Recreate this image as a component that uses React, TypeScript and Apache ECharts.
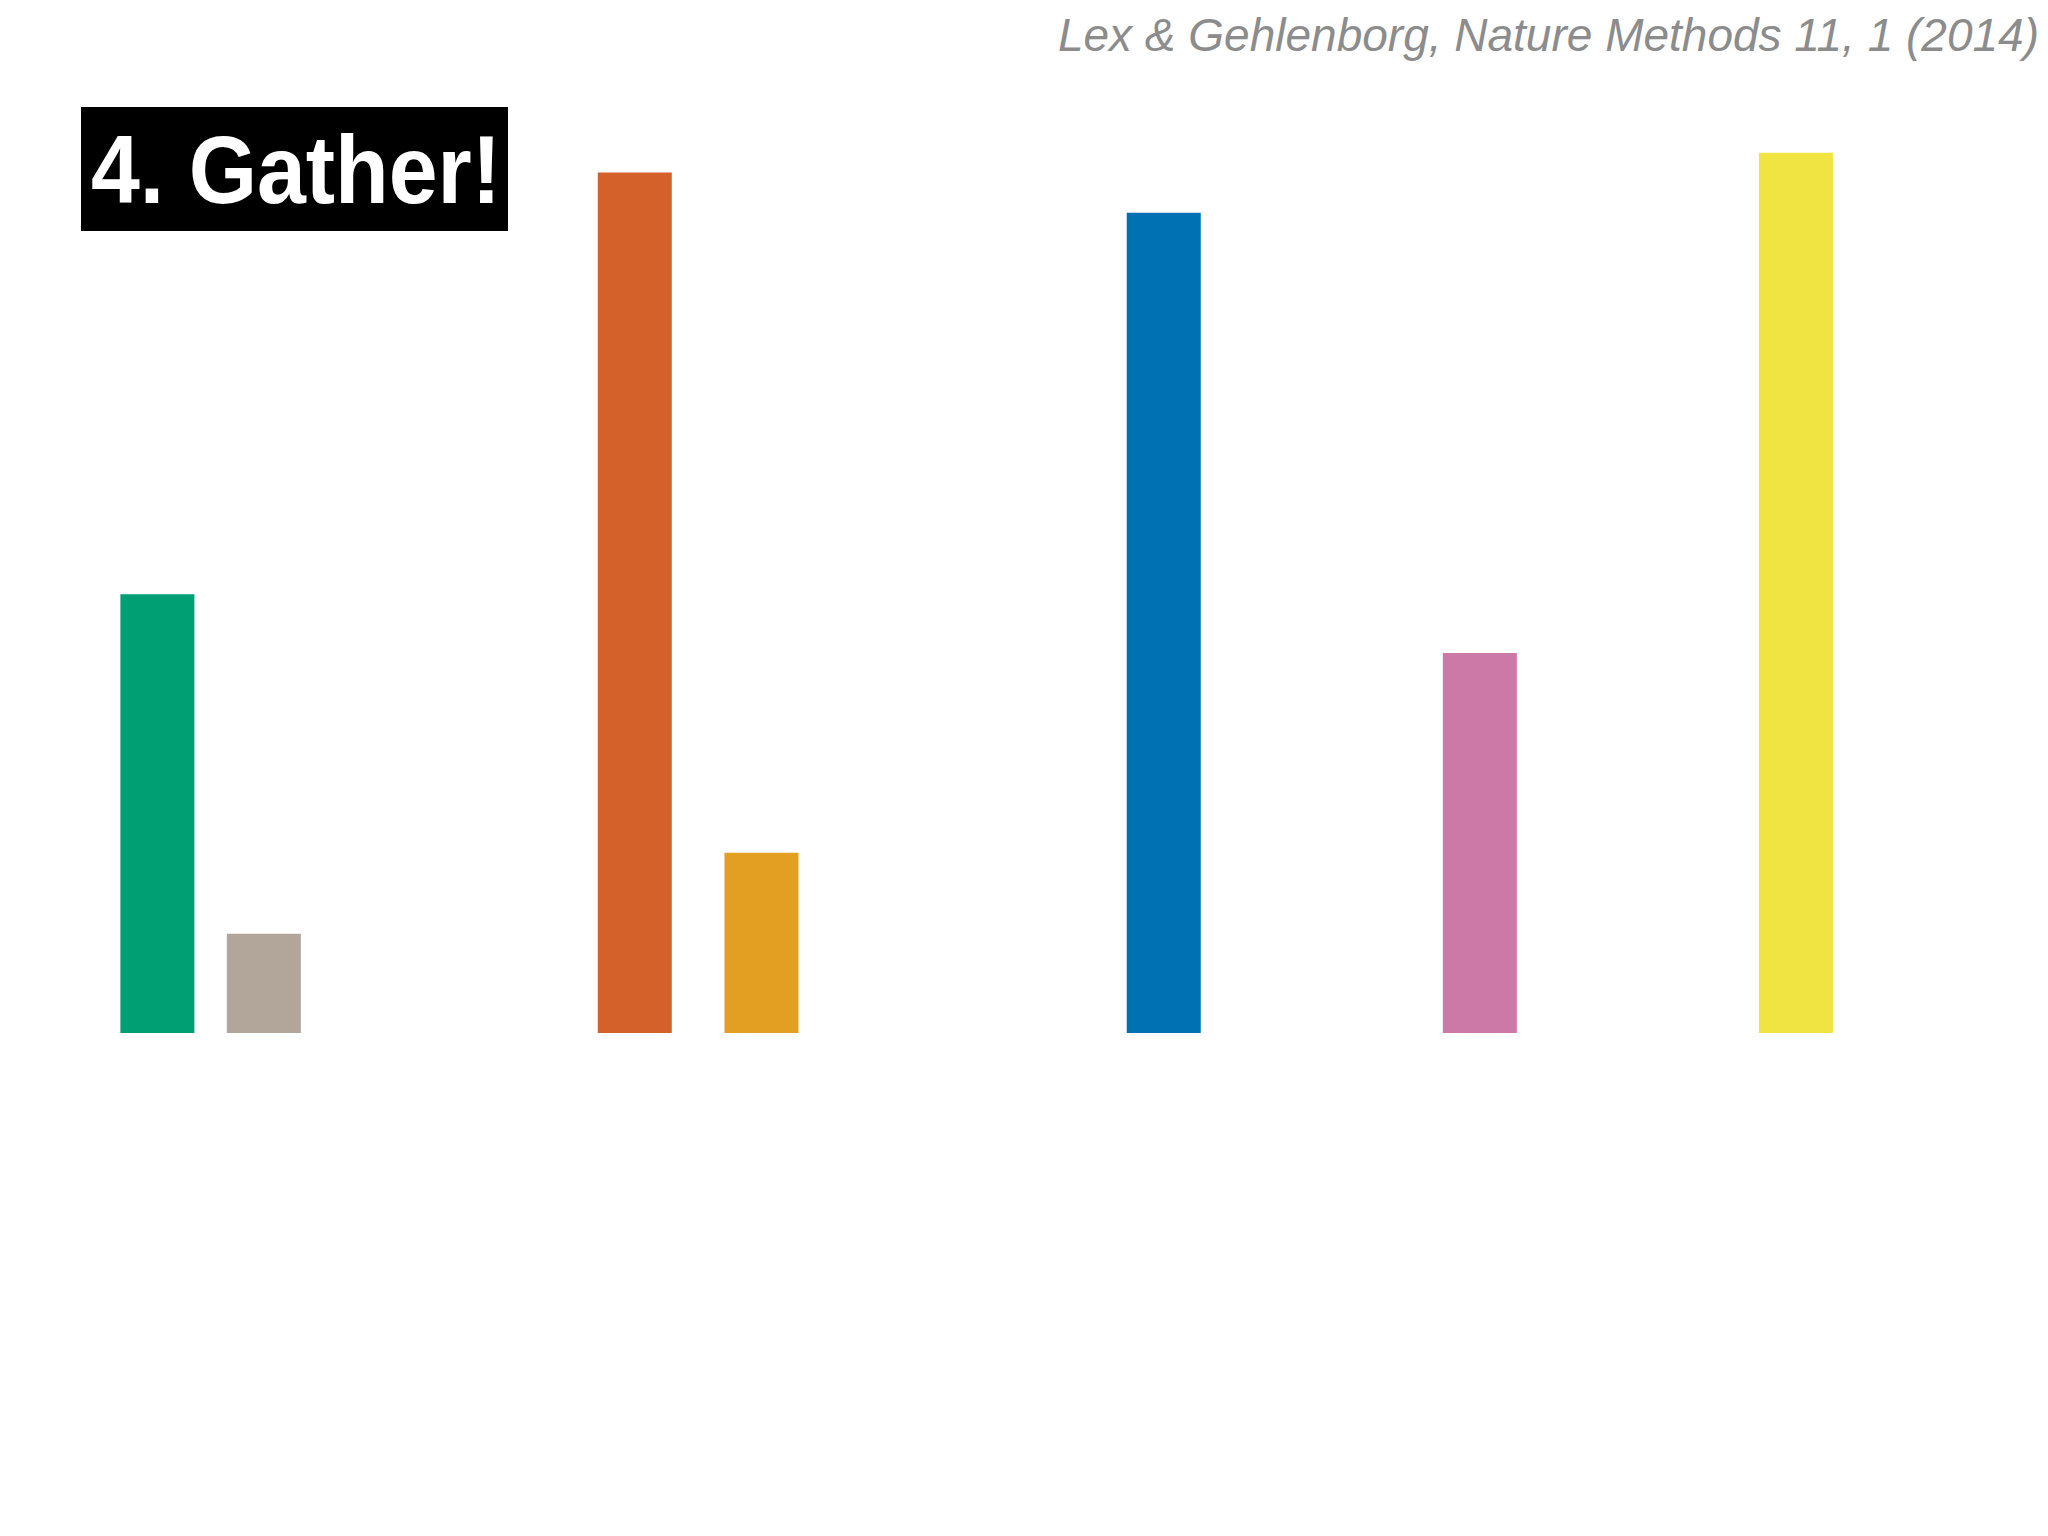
import React, { useEffect, useRef } from 'react';
import * as echarts from 'echarts';

// bar positions along the slide and their heights
const positions = [120.5, 202, 486, 583, 891, 1133, 1375];
const heights = [336, 76, 659, 138, 628, 291, 674];
const colors = ['#009E73', '#B2A59A', '#D4602A', '#E29F22', '#0072B4', '#CC79A7', '#F0E442'];

const title = '4. Gather!';
const citation = 'Lex & Gehlenborg, Nature Methods 11, 1 (2014)';

const App: React.FC = () => {
  const chartRef = useRef<HTMLDivElement>(null);

  useEffect(() => {
    if (!chartRef.current) return;
    const myChart = echarts.init(chartRef.current, null, { renderer: 'svg' });
    const option = {
      animation: false,
      backgroundColor: '#ffffff',
      grid: { left: 0, right: 0, top: 0, bottom: 503 },
      xAxis: { type: 'value', min: 0, max: 1568, show: false },
      yAxis: { type: 'value', min: 0, max: 791, show: false },
      series: [
        {
          type: 'bar',
          barWidth: 74,
          data: positions.map((x, i) => ({
            value: [x, heights[i]],
            itemStyle: { color: colors[i] },
          })),
        },
      ],
      graphic: [
        {
          type: 'rect',
          left: 81,
          top: 107,
          shape: { width: 427, height: 124 },
          style: { fill: '#000' },
        },
        {
          type: 'text',
          x: 91,
          y: 170,
          scaleX: 0.915,
          style: {
            text: title,
            fill: '#fff',
            font: 'bold 96px "Liberation Sans", Arial, sans-serif',
            textAlign: 'left',
            textVerticalAlign: 'middle',
          },
        },
        {
          type: 'text',
          x: 2039,
          y: 35,
          style: {
            text: citation,
            fill: '#8c8c8c',
            font: 'italic 46px "Liberation Sans", Arial, sans-serif',
            textAlign: 'right',
            textVerticalAlign: 'middle',
          },
        },
      ],
    };
    myChart.setOption(option);
    return () => { myChart.dispose(); };
  }, []);

  return (
    <div
      ref={chartRef}
      style={{ position: 'fixed', left: 0, top: 0, width: '2048px', height: '1536px' }}
    />
  );
};

export default App;
